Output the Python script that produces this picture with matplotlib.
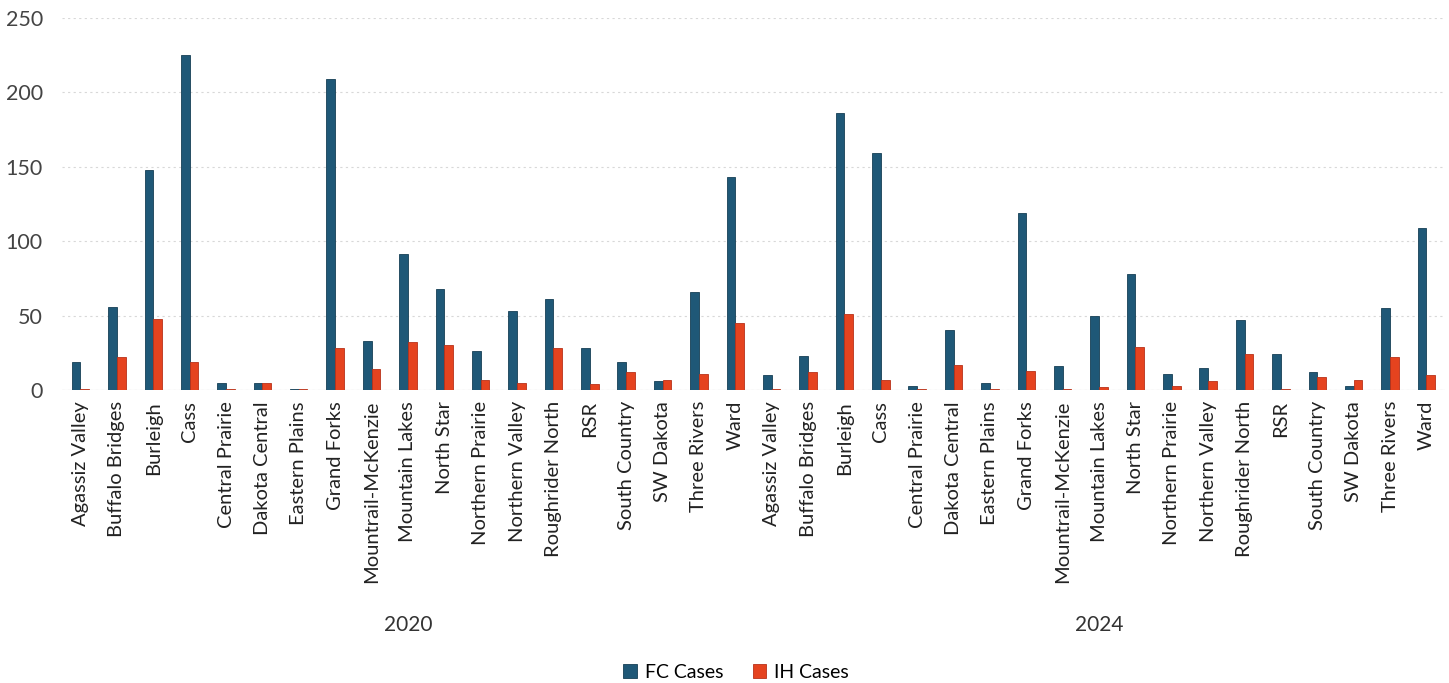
import numpy as np
import matplotlib.pyplot as plt

plt.rcParams['font.family'] = ['Lato', 'DejaVu Sans']

regions = ["Agassiz Valley", "Buffalo Bridges", "Burleigh", "Cass", "Central Prairie",
           "Dakota Central", "Eastern Plains", "Grand Forks", "Mountrail-McKenzie",
           "Mountain Lakes", "North Star", "Northern Prairie", "Northern Valley",
           "Roughrider North", "RSR", "South Country", "SW Dakota", "Three Rivers", "Ward"]
years = ["2020", "2024"]

fc_2020 = [19, 56, 148, 225, 5, 5, 1, 209, 33, 91, 68, 26, 53, 61, 28, 19, 6, 66, 143]
ih_2020 = [1, 22, 48, 19, 1, 5, 1, 28, 14, 32, 30, 7, 5, 28, 4, 12, 7, 11, 45]
fc_2024 = [10, 23, 186, 159, 3, 40, 5, 119, 16, 50, 78, 11, 15, 47, 24, 12, 3, 55, 109]
ih_2024 = [1, 12, 51, 7, 1, 17, 1, 13, 1, 2, 29, 3, 6, 24, 1, 9, 7, 22, 10]

labels = regions + regions
fc = fc_2020 + fc_2024
ih = ih_2020 + ih_2024
x = np.arange(len(labels))
w = 0.24

fig = plt.figure(figsize=(14.49, 6.83), dpi=100)
ax = fig.add_axes([0.043, 0.429, 0.954, 0.545])

ax.bar(x - w / 2, fc, w, color="#1f5877", edgecolor="#163f55", linewidth=0.6,
       label="FC Cases", zorder=3)
ax.bar(x + w / 2, ih, w, color="#e5431f", edgecolor="#b8321a", linewidth=0.6,
       label="IH Cases", zorder=3)

ax.set_xlim(-0.5, len(labels) - 0.5)
ax.set_ylim(0, 250)
ax.set_yticks(range(0, 251, 50))
ax.tick_params(axis="y", labelsize=15.5, colors="#444444", length=0, pad=14)
ax.set_xticks(x)
ax.set_xticklabels(labels, rotation=90, fontsize=14.5, color="#222222")
ax.tick_params(axis="x", length=0, pad=8)
ax.yaxis.grid(True, color="#d8d8d8", linestyle=(0, (2, 3)), linewidth=0.8, zorder=0)
for s in ax.spines.values():
    s.set_visible(False)
ax.axhline(0, color="#d0d0d0", linewidth=0.8, zorder=2)

# year labels under each group of regions
n = len(regions)
for i, yr in enumerate(years):
    cx = i * n + (n - 1) / 2
    ax.annotate(yr, xy=(cx, 0), xycoords=("data", "axes fraction"),
                xytext=(0, -235), textcoords="offset pixels",
                ha="center", va="center", fontsize=15, color="#333333")

fig.legend(loc="center", bbox_to_anchor=(0.508, 0.016), ncol=2, frameon=False,
           fontsize=14, handlelength=0.7, handleheight=0.7, columnspacing=1.5,
           handletextpad=0.4)

fig.savefig("out.png", dpi=100)
